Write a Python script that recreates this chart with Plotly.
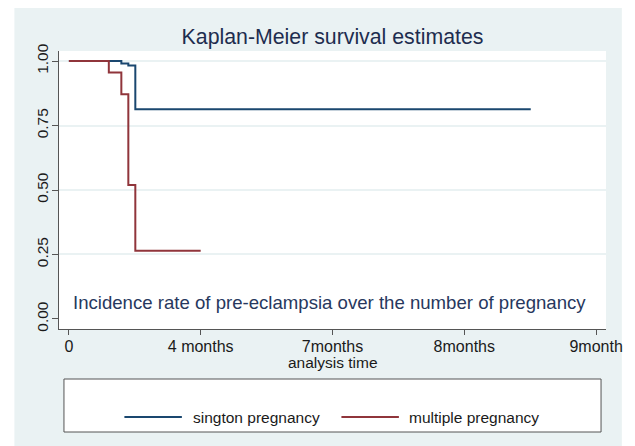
import plotly.graph_objects as go

# ---- data ----
tick_positions = [0, 1, 2, 3, 4]
tick_labels = ["0", "4 months", "7months", "8months", "9month"]

single_time = [0, 0.398, 0.451, 0.504, 3.504]
single_surv = [1.0, 0.991, 0.983, 0.813, 0.813]

multiple_time = [0, 0.303, 0.398, 0.451, 0.504, 1.0]
multiple_surv = [1.0, 0.956, 0.871, 0.519, 0.264, 0.264]

y_ticks = [0, 0.25, 0.5, 0.75, 1.0]
y_tick_labels = ["0.00", "0.25", "0.50", "0.75", "1.00"]

series_names = ["sington pregnancy", "multiple pregnancy"]
BLUE = "#1a476f"
RED = "#90353b"
BG = "#eaf2f3"
FONT = "Liberation Sans, Arial, sans-serif"

W, H = 635, 446
L, R, T, B = 59, 24, 51, 117
pw, ph = W - L - R, H - T - B


def px(x):
    return (x - L) / pw


def py(y):
    return (H - B - y) / ph


fig = go.Figure()
fig.add_trace(go.Scatter(x=single_time, y=single_surv, mode="lines", line_shape="hv",
                         line=dict(color=BLUE, width=2), name=series_names[0], showlegend=False))
fig.add_trace(go.Scatter(x=multiple_time, y=multiple_surv, mode="lines", line_shape="hv",
                         line=dict(color=RED, width=2), name=series_names[1], showlegend=False))
# invisible trace for grid-only axis
fig.add_trace(go.Scatter(x=[0], y=[0], yaxis="y2", mode="markers", marker=dict(opacity=0),
                         showlegend=False, hoverinfo="skip"))

shapes = [
    dict(type="rect", xref="paper", yref="paper", x0=px(14), x1=px(627), y0=py(450), y1=py(8),
         fillcolor=BG, line=dict(width=0), layer="below"),
    dict(type="rect", xref="paper", yref="paper", x0=0, x1=1, y0=0, y1=1,
         fillcolor="white", line=dict(width=0), layer="below"),
    # legend box
    dict(type="rect", xref="paper", yref="paper", x0=px(64), x1=px(606), y0=py(432), y1=py(379),
         fillcolor="white", line=dict(color="#555555", width=1)),
    dict(type="line", xref="paper", yref="paper", x0=px(125), x1=px(183), y0=py(417), y1=py(417),
         line=dict(color=BLUE, width=2)),
    dict(type="line", xref="paper", yref="paper", x0=px(344), x1=px(402), y0=py(417), y1=py(417),
         line=dict(color=RED, width=2)),
]

annotations = [
    dict(text="Incidence rate of pre-eclampsia over the number of pregnancy", xref="paper", yref="paper",
         x=px(332), y=py(302), xanchor="center", yanchor="middle", showarrow=False,
         font=dict(family=FONT, size=18.6, color="#27385e")),
    dict(text=series_names[0], xref="paper", yref="paper", x=px(192), y=py(417),
         xanchor="left", yanchor="middle", showarrow=False,
         font=dict(family=FONT, size=15.5, color="#1a1a1a")),
    dict(text=series_names[1], xref="paper", yref="paper", x=px(410), y=py(417),
         xanchor="left", yanchor="middle", showarrow=False,
         font=dict(family=FONT, size=15.5, color="#1a1a1a")),
    dict(text="analysis time", xref="paper", yref="paper", x=0.5, y=py(362),
         xanchor="center", yanchor="middle", showarrow=False,
         font=dict(family=FONT, size=15.5, color="#1a1a1a")),
]

fig.update_layout(
    width=W, height=H,
    margin=dict(l=L, r=R, t=T, b=B, pad=0),
    paper_bgcolor="white", plot_bgcolor="white",
    title=dict(text="Kaplan-Meier survival estimates", x=0.5, xref="paper", xanchor="center",
               y=1 - 37 / H, yref="container", yanchor="middle",
               font=dict(family=FONT, size=21.3, color="#1e2d4f")),
    font=dict(family=FONT, size=15.5, color="#1a1a1a"),
    xaxis=dict(range=[-0.075, 4.075], tickvals=tick_positions, ticktext=tick_labels,
               showgrid=False, zeroline=False, showline=True, linecolor="#555555", linewidth=1,
               ticks="outside", ticklen=5, tickcolor="#555555", ticklabelstandoff=-2,
               tickfont=dict(family=FONT, size=16, color="#1a1a1a")),
    yaxis=dict(range=[-0.039, 1.039], tickvals=y_ticks, ticktext=y_tick_labels, tickangle=-90,
               showgrid=False, zeroline=False, showline=True, linecolor="#555555", linewidth=1,
               ticks="outside", ticklen=6, tickcolor="#555555", ticklabelstandoff=-2,
               tickfont=dict(family=FONT, size=15.5, color="#1a1a1a")),
    yaxis2=dict(range=[-0.039, 1.039], overlaying="y", tickvals=y_ticks[1:], showticklabels=False,
                showgrid=True, gridcolor=BG, gridwidth=1.5, zeroline=False, showline=False),
    shapes=shapes,
    annotations=annotations,
    showlegend=False,
)

fig.write_html("out.html", config={"displayModeBar": False},
               post_script="document.body.style.margin='0';document.body.style.overflow='hidden';")
